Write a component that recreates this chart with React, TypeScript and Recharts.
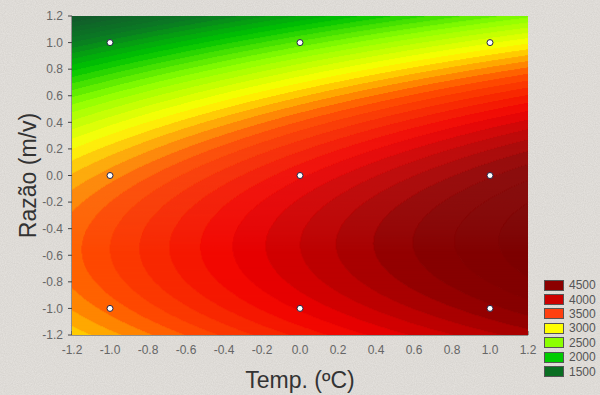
import React from "react";
import { ScatterChart, Scatter, XAxis, YAxis } from "recharts";

// axis ticks (coded levels)
const axisTicks = [-1.2, -1.0, -0.8, -0.6, -0.4, -0.2, 0, 0.2, 0.4, 0.6, 0.8, 1.0, 1.2];

// experimental design points (Temp x Razão)
const designTemp = [-1, 0, 1];
const designRatio = [-1, 0, 1];

// fitted quadratic response surface, coefficients
const surfaceTerms = ["b0", "T", "R", "T2", "R2", "TR"];
const surfaceCoef = [3980, 567, -842, -60, -808, 50];

// colour scale of the contour fill
const scaleValues = [1000, 1500, 2000, 2500, 3000, 3500, 4000, 4500, 5000];
const scaleColors = ["#13592c", "#0b7a24", "#00c400", "#8cff00", "#ffff00", "#ff5000", "#f00000", "#8a0000", "#700000"];

// legend
const legendLevels = [4500, 4000, 3500, 3000, 2500, 2000, 1500];
const legendColors = ["#8b0000", "#cc0000", "#ff4010", "#ffff00", "#8cff00", "#00cc00", "#0a6e22"];

const BAND_STEP = 100;

const CHART_W = 600;
const CHART_H = 395;
const MARGIN = { top: 16, right: 72, bottom: 0, left: 0 };
const Y_AXIS_W = 72;
const X_AXIS_H = 60;
const PLOT_W = CHART_W - MARGIN.left - MARGIN.right - Y_AXIS_W;
const PLOT_H = CHART_H - MARGIN.top - MARGIN.bottom - X_AXIS_H;
const PX_X = PLOT_W / 2.4;
const PX_Y = PLOT_H / 2.4;

const ROWS = 320;
const COLS = 480;
const DY = 2.4 / ROWS;
const DX = 2.4 / COLS;

const coef = (name: string) => surfaceCoef[surfaceTerms.indexOf(name)];

function surface(t: number, r: number) {
  return (
    coef("b0") + coef("T") * t + coef("R") * r +
    coef("T2") * t * t + coef("R2") * r * r + coef("TR") * t * r
  );
}

function hexToRgb(h: string) {
  const n = parseInt(h.slice(1), 16);
  return [(n >> 16) & 255, (n >> 8) & 255, n & 255];
}

function colorFor(v: number) {
  if (v <= scaleValues[0]) return scaleColors[0];
  const last = scaleValues.length - 1;
  if (v >= scaleValues[last]) return scaleColors[last];
  let i = 0;
  while (v > scaleValues[i + 1]) i++;
  const f = (v - scaleValues[i]) / (scaleValues[i + 1] - scaleValues[i]);
  const a = hexToRgb(scaleColors[i]);
  const b = hexToRgb(scaleColors[i + 1]);
  const c = a.map((x, k) => Math.round(x + (b[k] - x) * f));
  return `rgb(${c[0]},${c[1]},${c[2]})`;
}

// horizontal runs of equal contour band, one set per row
const bandRuns: { x: number; y: number; w: number; fill: string }[] = [];
for (let j = 0; j < ROWS; j++) {
  const y = -1.2 + (j + 0.5) * DY;
  let start = -1.2;
  let band = Math.floor(surface(-1.2 + DX / 2, y) / BAND_STEP);
  for (let i = 1; i <= COLS; i++) {
    const xm = -1.2 + (i + 0.5) * DX;
    const b = i < COLS ? Math.floor(surface(xm, y) / BAND_STEP) : NaN;
    if (b !== band) {
      const end = -1.2 + i * DX;
      bandRuns.push({ x: (start + end) / 2, y, w: end - start, fill: colorFor(band * BAND_STEP + BAND_STEP / 2) });
      start = end;
      band = b;
    }
  }
}

const designPoints = designRatio.flatMap((r) => designTemp.map((t) => ({ x: t, y: r })));

const BandShape = (p: any) => {
  const { cx, cy, payload } = p;
  const w = payload.w * PX_X;
  const h = DY * PX_Y;
  return <rect x={cx - w / 2 - 0.3} y={cy - h / 2 - 0.25} width={w + 0.6} height={h + 0.5} fill={payload.fill} />;
};

const DesignDot = (p: any) => (
  <circle cx={p.cx} cy={p.cy} r={3} fill="#ffffff" stroke="#232345" strokeWidth={1} />
);

const FONT = "'Liberation Sans', Arial, sans-serif";
const fmt = (v: number) => v.toFixed(1);

export default function App() {
  return (
    <div style={{ position: "absolute", left: 0, top: 0, width: CHART_W, height: CHART_H, background: "#e7e4e0", fontFamily: FONT }}>
      <svg width={CHART_W} height={CHART_H} style={{ position: "absolute", left: 0, top: 0 }}>
        <filter id="grain">
          <feTurbulence type="fractalNoise" baseFrequency="0.9" numOctaves={2} seed={3} />
          <feColorMatrix type="matrix" values="0 0 0 0 0.45  0 0 0 0 0.43  0 0 0 0 0.40  0 0 0 0.35 0" />
        </filter>
        <rect width={CHART_W} height={CHART_H} filter="url(#grain)" />
      </svg>
      <div style={{ position: "absolute", left: 0, top: 0 }}>
        <ScatterChart width={CHART_W} height={CHART_H} margin={MARGIN}>
          <Scatter data={bandRuns} shape={BandShape} isAnimationActive={false} />
          <XAxis
            type="number"
            dataKey="x"
            domain={[-1.2, 1.2]}
            ticks={axisTicks}
            allowDataOverflow
            tickFormatter={fmt}
            height={X_AXIS_H}
            stroke="#444"
            tickSize={-4}
            tickMargin={14}
            tick={{ fill: "#666", fontSize: 12 }}
            label={{ value: "Temp. (ºC)", position: "insideBottom", offset: 7, fill: "#333", fontSize: 23 }}
          />
          <YAxis
            type="number"
            dataKey="y"
            domain={[-1.2, 1.2]}
            ticks={axisTicks}
            allowDataOverflow
            tickFormatter={fmt}
            width={Y_AXIS_W}
            stroke="#444"
            tickSize={4}
            tickMargin={5}
            tick={{ fill: "#666", fontSize: 12 }}
            label={{ value: "Razão (m/v)", angle: -90, position: "center", dx: -8, fill: "#333", fontSize: 23 }}
          />
          <XAxis
            xAxisId="top"
            orientation="top"
            type="number"
            domain={[-1.2, 1.2]}
            ticks={axisTicks}
            allowDataOverflow
            height={0}
            stroke="#444"
            tickSize={-4}
            tickFormatter={() => ""}
          />
          <YAxis
            yAxisId="right"
            orientation="right"
            type="number"
            domain={[-1.2, 1.2]}
            ticks={axisTicks}
            allowDataOverflow
            width={0}
            stroke="#444"
            tickSize={-4}
            tickFormatter={() => ""}
          />
          <Scatter data={designPoints} shape={DesignDot} isAnimationActive={false} />
        </ScatterChart>
      </div>
      <div style={{ position: "absolute", left: 544, top: 278 }}>
        {legendLevels.map((lv, i) => (
          <div key={lv} style={{ display: "flex", alignItems: "center", height: 14.4 }}>
            <div style={{ width: 18, height: 9, background: legendColors[i], border: "1px solid #555" }} />
            <span style={{ marginLeft: 5, fontSize: 12, color: "#555" }}>{lv}</span>
          </div>
        ))}
      </div>
    </div>
  );
}
